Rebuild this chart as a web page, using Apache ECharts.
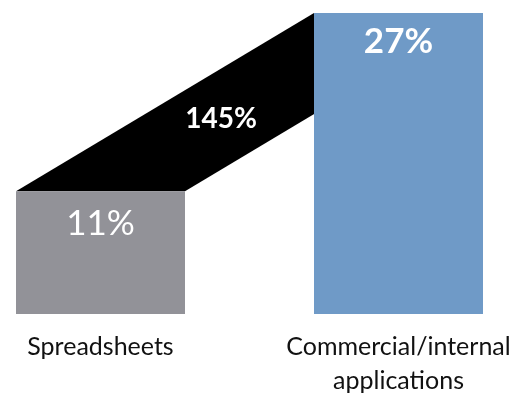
<!DOCTYPE html>
<html>
<head>
<meta charset="utf-8">
<script src="https://cdn.jsdelivr.net/npm/echarts@6/dist/echarts.min.js"></script>
<style>
  html, body { margin: 0; padding: 0; background: #fff; }
  #main { width: 527px; height: 394px; }
</style>
</head>
<body>
<div id="main"></div>
<script>
var categories = ['Spreadsheets', 'Commercial/internal\napplications'];
var shares = [11, 27];
var barColors = ['#929298', '#6f9ac7'];
var growthLabel = '145%';

var barW = 169;
var myChart = echarts.init(document.getElementById('main'));

var option = {
    animation: false,
    backgroundColor: '#fff',
    grid: { left: 100.5, right: 128.5, top: 13, bottom: 80, outerBoundsMode: 'none' },
    xAxis: {
        type: 'category',
        data: categories,
        boundaryGap: false,
        axisLine: { show: false },
        axisTick: { show: false },
        axisLabel: {
            margin: 16,
            fontSize: 25,
            lineHeight: 34,
            color: '#111',
            fontFamily: 'Lato, "Liberation Sans", sans-serif'
        }
    },
    yAxis: {
        type: 'value', min: 0, max: 27, show: false,
        splitLine: { show: false }
    },
    series: [
        {
            // black band joining the two bar tops
            type: 'custom',
            z: 1,
            encode: { x: [0, 2], y: [1, 3] },
            data: [[0, shares[0], 1, shares[1]]],
            renderItem: function (params, api) {
                var p0 = api.coord([api.value(0), api.value(1)]);
                var p1 = api.coord([api.value(2), api.value(3)]);
                var hw = barW / 2;
                var t = 0.405;
                return {
                    type: 'group',
                    children: [{
                        type: 'polygon',
                        shape: { points: [
                            [p0[0] - hw, p0[1]], [p0[0] + hw, p0[1]],
                            [p1[0] + hw, p1[1]], [p1[0] - hw, p1[1]]
                        ] },
                        style: { fill: '#000' }
                    }, {
                        type: 'text',
                        x: p0[0] + (p1[0] - p0[0]) * t,
                        y: p0[1] + (p1[1] - p0[1]) * t,
                        style: {
                            text: growthLabel,
                            fill: '#fff',
                            fontSize: 28,
                            fontWeight: 'bold',
                            fontFamily: 'Lato, sans-serif',
                            align: 'center',
                            verticalAlign: 'middle'
                        }
                    }]
                };
            }
        },
        {
            type: 'bar',
            z: 2,
            barWidth: barW,
            data: shares.map(function (v, i) {
                return {
                    value: v,
                    itemStyle: { color: barColors[i] },
                    label: {
                        distance: i === 0 ? 15 : 11,
                        fontWeight: i === 0 ? 'normal' : 'bold'
                    }
                };
            }),
            label: {
                show: true,
                position: 'insideTop',
                formatter: '{c}%',
                color: '#fff',
                fontSize: 35,
                fontFamily: 'Lato, sans-serif'
            }
        }
    ]
};

myChart.setOption(option);
</script>
</body>
</html>
